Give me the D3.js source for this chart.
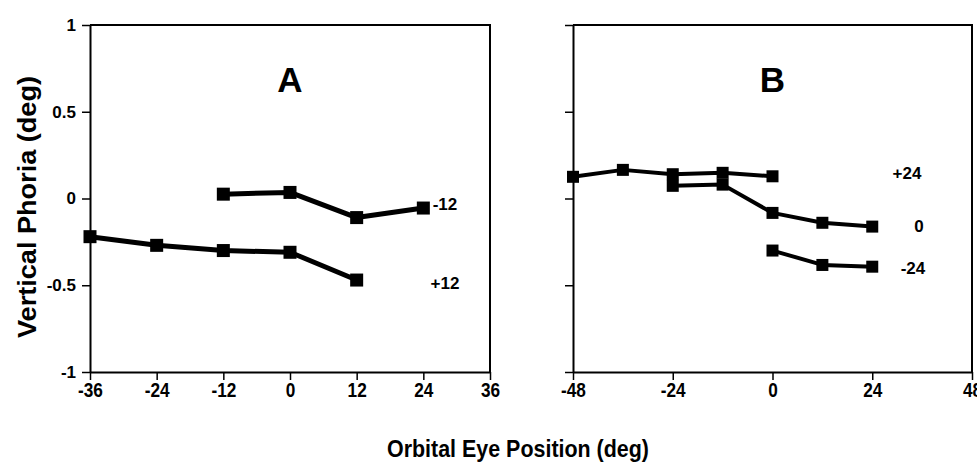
<!DOCTYPE html>
<html>
<head>
<meta charset="utf-8">
<script src="https://cdn.jsdelivr.net/npm/d3@7"></script>
<style>
  body { margin: 0; background: #fff; }
  svg { display: block; font-family: "Liberation Sans", Arial, Helvetica, sans-serif; }
  .tick text { font-weight: bold; }
</style>
</head>
<body>
<div id="viz"></div>
<script>
// panel A: orbital eye positions and phoria per vertical gaze
const posA = [-36, -24, -12, 0, 12, 24];
const seriesAPlus12 = [-0.22, -0.27, -0.30, -0.31, -0.47, null];
const seriesAMinus12 = [null, null, 0.025, 0.035, -0.11, -0.055];

// panel B
const posB = [-48, -36, -24, -12, 0, 12, 24];
const seriesBPlus24 = [0.125, 0.165, 0.14, 0.148, 0.128, null, null];
const seriesBZero = [null, null, 0.073, 0.08, -0.083, -0.14, -0.162];
const seriesBMinus24 = [null, null, null, null, -0.30, -0.383, -0.393];

const ticksA = [-36, -24, -12, 0, 12, 24, 36];
const ticksB = [-48, -24, 0, 24, 48];
const ticksY = [-1, -0.5, 0, 0.5, 1];

document.addEventListener("DOMContentLoaded", () => {
    const width = 977;
    const height = 466;

    const svg = d3.select('#viz').append('svg')
        .attr('width', width)
        .attr('height', height);

    const y = d3.scaleLinear().domain([-1, 1]).range([372, 25]);

    const panels = [
        {
            name: 'A', x: d3.scaleLinear().domain([-36, 36]).range([90, 490]), ticks: ticksA, yLabels: true,
            lineWidth: 5, marker: 13,
            series: [
                { label: '+12', pos: posA, values: seriesAPlus12, lx: 445, ly: 283 },
                { label: '-12', pos: posA, values: seriesAMinus12, lx: 445, ly: 204 }
            ]
        },
        {
            name: 'B', x: d3.scaleLinear().domain([-48, 48]).range([573, 972]), ticks: ticksB, yLabels: false,
            lineWidth: 4, marker: 12,
            series: [
                { label: '+24', pos: posB, values: seriesBPlus24, lx: 907, ly: 173 },
                { label: '0', pos: posB, values: seriesBZero, lx: 919, ly: 226 },
                { label: '-24', pos: posB, values: seriesBMinus24, lx: 913, ly: 268 }
            ]
        }
    ];

    panels.forEach(p => {
        const g = svg.append('g');
        const [x0, x1] = p.x.range();

        // frame (top and right)
        g.append('path')
            .attr('d', `M${x0},${y(1)}H${x1}V${y(-1)}`)
            .attr('fill', 'none')
            .attr('stroke', '#000')
            .attr('stroke-width', 2);

        const xAxis = g.append('g')
            .attr('transform', `translate(0,${y(-1)})`)
            .call(d3.axisBottom(p.x).tickValues(p.ticks).tickSize(8).tickSizeOuter(0).tickPadding(2)
                .tickFormat(d => String(d)));

        const yAxis = g.append('g')
            .attr('transform', `translate(${x0},0)`)
            .call(d3.axisLeft(y).tickValues(ticksY).tickSize(8).tickSizeOuter(0).tickPadding(6)
                .tickFormat(p.yLabels ? d => String(d) : () => ''));

        [xAxis, yAxis].forEach(a => {
            a.select('.domain').attr('stroke-width', 2);
            a.selectAll('.tick line').attr('stroke-width', 1.5);
            a.selectAll('.tick text').attr('fill', '#000');
        });
        // condensed look of the original tick labels
        xAxis.selectAll('.tick text')
            .style('font-size', '21px')
            .attr('transform', 'scale(0.82,1)');
        yAxis.selectAll('.tick text')
            .style('font-size', '17px');

        g.append('text')
            .attr('x', (x0 + x1) / 2)
            .attr('y', 92)
            .attr('text-anchor', 'middle')
            .attr('font-weight', 'bold')
            .attr('font-size', 35)
            .text(p.name);

        const line = d3.line()
            .defined(d => d[1] !== null)
            .x(d => p.x(d[0]))
            .y(d => y(d[1]));

        p.series.forEach(s => {
            const pts = s.pos.map((v, i) => [v, s.values[i]]);
            g.append('path')
                .datum(pts)
                .attr('d', line)
                .attr('fill', 'none')
                .attr('stroke', '#000')
                .attr('stroke-width', p.lineWidth)
                .attr('stroke-linejoin', 'round');

            g.selectAll(null)
                .data(pts.filter(d => d[1] !== null))
                .enter()
                .append('rect')
                .attr('x', d => p.x(d[0]) - p.marker / 2)
                .attr('y', d => y(d[1]) - p.marker / 2)
                .attr('width', p.marker)
                .attr('height', p.marker)
                .attr('fill', '#000');

            g.append('text')
                .attr('x', s.lx)
                .attr('y', s.ly)
                .attr('dy', '0.35em')
                .attr('text-anchor', 'middle')
                .attr('font-weight', 'bold')
                .attr('font-size', 17)
                .text(s.label);
        });
    });

    svg.append('text')
        .attr('transform', 'translate(36,207) rotate(-90)')
        .attr('text-anchor', 'middle')
        .attr('font-weight', 'bold')
        .attr('font-size', 25)
        .attr('textLength', 262)
        .attr('lengthAdjust', 'spacingAndGlyphs')
        .text('Vertical Phoria (deg)');

    svg.append('text')
        .attr('x', 518)
        .attr('y', 457)
        .attr('text-anchor', 'middle')
        .attr('font-weight', 'bold')
        .attr('font-size', 24)
        .attr('textLength', 262)
        .attr('lengthAdjust', 'spacingAndGlyphs')
        .text('Orbital Eye Position (deg)');
});
</script>
</body>
</html>
